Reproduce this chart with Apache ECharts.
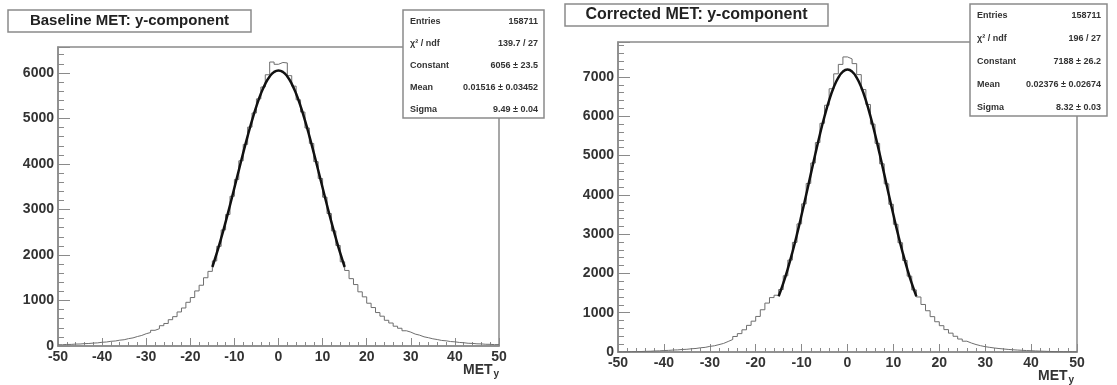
<!DOCTYPE html>
<html>
<head>
<meta charset="utf-8">
<script src="https://cdn.jsdelivr.net/npm/echarts@6/dist/echarts.min.js"></script>
<style>
html, body { margin: 0; padding: 0; background: #fff; }
#chart { width: 1117px; height: 385px; }
</style>
</head>
<body>
<div id="chart"></div>
<script>
// bin lower edges: 100 bins of width 1 from -50 to 50
const binLow = Array.from({ length: 100 }, (v, i) => -50 + i)

const baselineCounts = [
	28, 34, 35, 42, 44, 52, 55, 64, 69, 82,
	88, 103, 110, 128, 138, 162, 178, 208, 232, 270,
	296, 345, 380, 446, 495, 578, 645, 748, 835, 960,
	1065, 1210, 1335, 1500, 1640, 1870, 2190, 2550, 2890, 3290,
	3660, 4070, 4430, 4810, 5120, 5430, 5690, 5960, 6240, 6190,
	6230, 6220, 5940, 5710, 5410, 5140, 4790, 4450, 4050, 3680,
	3270, 2910, 2530, 2210, 1850, 1660, 1480, 1350, 1190, 1080,
	940, 845, 735, 655, 565, 505, 435, 390, 335, 305,
	262, 238, 202, 182, 158, 142, 122, 114, 98, 92,
	78, 72, 60, 57, 48, 46, 38, 37, 30, 31
]

const correctedCounts = [
	4, 6, 7, 10, 12, 17, 19, 26, 29, 37,
	41, 50, 54, 64, 69, 82, 90, 108, 118, 143,
	158, 188, 218, 268, 318, 395, 468, 565, 678, 785,
	905, 1075, 1245, 1385, 1445, 1590, 1940, 2340, 2790, 3260,
	3770, 4290, 4810, 5330, 5820, 6280, 6700, 7080, 7320, 7510,
	7460, 7340, 7060, 6680, 6300, 5800, 5310, 4790, 4280, 3760,
	3250, 2780, 2330, 1930, 1580, 1400, 1210, 1050, 900, 770,
	670, 570, 480, 400, 330, 275, 228, 190, 160, 136,
	118, 102, 88, 77, 66, 57, 50, 43, 37, 32,
	27, 22, 18, 14, 11, 9, 7, 6, 5, 4
]

// gaussian fit curves, sampled off the picture from -15 to 15
const fitX = [-15, -14, -13, -12, -11, -10, -9, -8, -7, -6, -5, -4, -3, -2, -1, 0,
	1, 2, 3, 4, 5, 6, 7, 8, 9, 10, 11, 12, 13, 14, 15]
const baselineFit = [1736, 2040, 2369, 2722, 3093, 3476, 3862, 4244, 4613, 4959, 5271, 5541, 5761, 5923, 6022, 6056,
	6022, 5923, 5761, 5541, 5271, 4959, 4613, 4244, 3862, 3476, 3093, 2722, 2369, 2040, 1736]
const correctedFit = [1415, 1745, 2121, 2540, 2999, 3491, 4004, 4527, 5045, 5542, 6000, 6403, 6736, 6983, 7136, 7188,
	7136, 6983, 6736, 6403, 6000, 5542, 5045, 4527, 4004, 3491, 2999, 2540, 2121, 1745, 1415]

const baselineStats = [
	["Entries", "158711"],
	["\u03c7\u00b2 / ndf", "139.7 / 27"],
	["Constant", "6056 \u00b1 23.5"],
	["Mean", "0.01516 \u00b1 0.03452"],
	["Sigma", "9.49 \u00b1 0.04"]
]
const correctedStats = [
	["Entries", "158711"],
	["\u03c7\u00b2 / ndf", "196 / 27"],
	["Constant", "7188 \u00b1 26.2"],
	["Mean", "0.02376 \u00b1 0.02674"],
	["Sigma", "8.32 \u00b1 0.03"]
]

const FONT = '"Liberation Sans", Arial, sans-serif'

function histData(counts) {
	const pts = binLow.map((x, i) => [x, counts[i]])
	pts.push([50, counts[counts.length - 1]])
	return pts
}

function xAxisFor(gridIndex) {
	return {
		gridIndex, type: 'value', min: -50, max: 50, interval: 10,
		axisLine: { onZero: false, lineStyle: { color: '#8a8a8a', width: 1.5 } },
		axisTick: { inside: true, length: 8, lineStyle: { color: '#8a8a8a' } },
		minorTick: { show: true, splitNumber: 5, length: 4, lineStyle: { color: '#8a8a8a' } },
		axisLabel: { color: '#333', fontFamily: FONT, fontWeight: 'bold', fontSize: 14, margin: 4, formatter: v => String(v) },
		splitLine: { show: false }
	}
}

function yAxisFor(gridIndex, max) {
	return {
		gridIndex, type: 'value', min: 0, max, interval: 1000,
		axisLine: { show: true, onZero: false, lineStyle: { color: '#8a8a8a', width: 1.5 } },
		axisTick: { inside: true, length: 12, lineStyle: { color: '#8a8a8a' } },
		minorTick: { show: true, splitNumber: 5, length: 6, lineStyle: { color: '#8a8a8a' } },
		axisLabel: { color: '#333', fontFamily: FONT, fontWeight: 'bold', fontSize: 14, margin: 4, showMaxLabel: false,
			formatter: v => String(v) },
		splitLine: { show: false }
	}
}

function titleBox(x, y, w, h, text, size) {
	return {
		type: 'group', x, y, z: 100,
		children: [
			{ type: 'rect', shape: { x: 0, y: 0, width: w, height: h }, style: { fill: '#fff', stroke: '#8a8a8a', lineWidth: 1.5 } },
			{ type: 'text', x: w / 2, y: h / 2, style: { text, font: `bold ${size}px ${FONT}`, fill: '#222',
				textAlign: 'center', align: 'center', textVerticalAlign: 'middle', verticalAlign: 'middle' } }
		]
	}
}

function statsBox(x, y, w, h, rows, step) {
	const children = [
		{ type: 'rect', shape: { x: 0, y: 0, width: w, height: h }, style: { fill: '#fff', stroke: '#8a8a8a', lineWidth: 1.5 } }
	]
	rows.forEach((r, i) => {
		const ty = 12 + i * step
		children.push({ type: 'text', x: 7, y: ty, style: { text: r[0], font: `bold 9px ${FONT}`, fill: '#333',
			textVerticalAlign: 'middle', verticalAlign: 'middle' } })
		children.push({ type: 'text', x: w - 6, y: ty, style: { text: r[1], font: `bold 9px ${FONT}`, fill: '#333',
			textAlign: 'right', align: 'right', textVerticalAlign: 'middle', verticalAlign: 'middle' } })
	})
	return { type: 'group', x, y, z: 100, children }
}

function axisName(x, y) {
	return {
		type: 'text', x, y, z: 100,
		style: {
			text: '{a|MET}{b|y}',
			rich: {
				a: { font: `bold 14px ${FONT}`, fill: '#333', color: '#333' },
				b: { font: `bold 10px ${FONT}`, fill: '#333', color: '#333', padding: [8, 0, 0, 1] }
			}
		}
	}
}

const chart = echarts.init(document.querySelector('#chart'), null, { renderer: 'canvas' })
chart.setOption({
	backgroundColor: '#fff',
	animation: false,
	grid: [
		{ left: 58, right: 618, top: 47, bottom: 39, show: true, borderColor: '#8a8a8a', borderWidth: 1.5 },
		{ left: 618, right: 40, top: 42, bottom: 33, show: true, borderColor: '#8a8a8a', borderWidth: 1.5 }
	],
	xAxis: [xAxisFor(0), xAxisFor(1)],
	yAxis: [yAxisFor(0, 6570), yAxisFor(1, 7890)],
	series: [
		{ type: 'line', xAxisIndex: 0, yAxisIndex: 0, step: 'end', showSymbol: false, symbol: 'none',
			lineStyle: { color: '#6e6e6e', width: 1 }, data: histData(baselineCounts) },
		{ type: 'line', xAxisIndex: 0, yAxisIndex: 0, smooth: true, symbol: 'none',
			lineStyle: { color: '#111', width: 2.5 }, data: fitX.map((x, i) => [x, baselineFit[i]]) },
		{ type: 'line', xAxisIndex: 1, yAxisIndex: 1, step: 'end', showSymbol: false, symbol: 'none',
			lineStyle: { color: '#6e6e6e', width: 1 }, data: histData(correctedCounts) },
		{ type: 'line', xAxisIndex: 1, yAxisIndex: 1, smooth: true, symbol: 'none',
			lineStyle: { color: '#111', width: 2.5 }, data: fitX.map((x, i) => [x, correctedFit[i]]) }
	],
	graphic: [
		titleBox(8, 10, 243, 22, 'Baseline MET: y-component', 15),
		titleBox(565, 4, 263, 22, 'Corrected MET: y-component', 16),
		statsBox(403, 10, 141, 108, baselineStats, 22),
		statsBox(970, 4, 137, 112, correctedStats, 23),
		axisName(463, 361),
		axisName(1038, 367)
	]
})
</script>
</body>
</html>
